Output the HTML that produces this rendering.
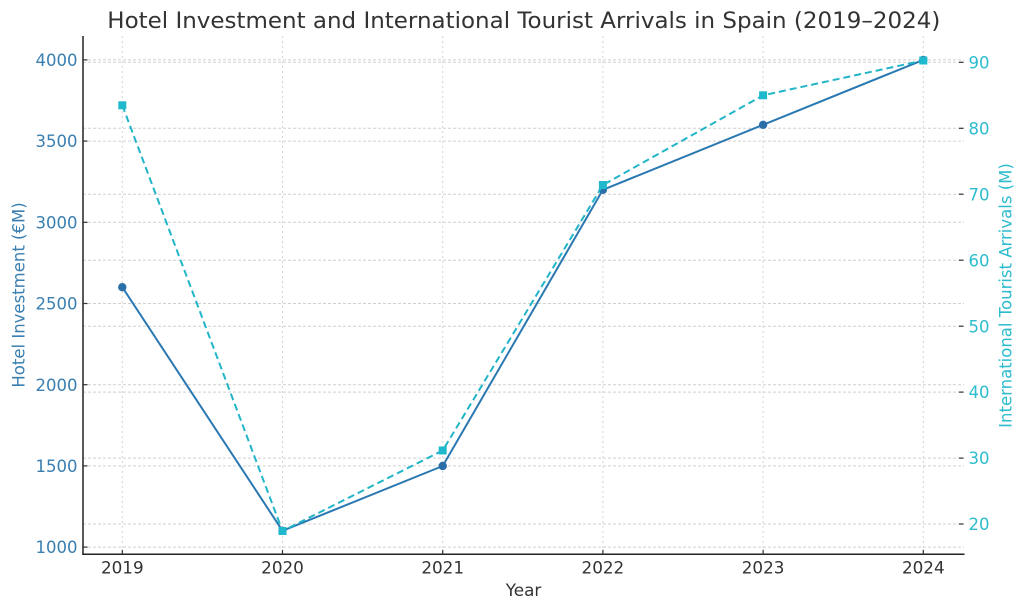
<!DOCTYPE html>
<html>
<head>
<meta charset="utf-8">
<style>
  html, body { margin: 0; padding: 0; background: #ffffff; }
  svg { display: block; }
  text { font-family: "DejaVu Sans", "Liberation Sans", sans-serif; }
</style>
</head>
<body>
<svg width="1024" height="610" viewBox="0 0 1024 610" xmlns="http://www.w3.org/2000/svg">
  <rect x="0" y="0" width="1024" height="610" fill="#ffffff"/>

  <!-- vertical grid (dotted) -->
  <g stroke="#d4d4d4" stroke-width="1" stroke-dasharray="2,3">
    <line x1="122.3" y1="36" x2="122.3" y2="554"/>
    <line x1="282.5" y1="36" x2="282.5" y2="554"/>
    <line x1="442.7" y1="36" x2="442.7" y2="554"/>
    <line x1="602.9" y1="36" x2="602.9" y2="554"/>
    <line x1="763.1" y1="36" x2="763.1" y2="554"/>
    <line x1="923.3" y1="36" x2="923.3" y2="554"/>
  </g>

  <!-- horizontal grid, left axis -->
  <g stroke="#d0d0d0" stroke-width="1" stroke-dasharray="3,2">
    <line x1="83" y1="59.9" x2="964" y2="59.9"/>
    <line x1="83" y1="141.1" x2="964" y2="141.1"/>
    <line x1="83" y1="222.3" x2="964" y2="222.3"/>
    <line x1="83" y1="303.5" x2="964" y2="303.5"/>
    <line x1="83" y1="384.7" x2="964" y2="384.7"/>
    <line x1="83" y1="465.9" x2="964" y2="465.9"/>
    <line x1="83" y1="547.1" x2="964" y2="547.1"/>
  </g>
  <!-- horizontal grid, right axis -->
  <g stroke="#d0d0d0" stroke-width="1" stroke-dasharray="3,2">
    <line x1="83" y1="62.3" x2="964" y2="62.3"/>
    <line x1="83" y1="128.3" x2="964" y2="128.3"/>
    <line x1="83" y1="194.2" x2="964" y2="194.2"/>
    <line x1="83" y1="260.2" x2="964" y2="260.2"/>
    <line x1="83" y1="326.2" x2="964" y2="326.2"/>
    <line x1="83" y1="392.1" x2="964" y2="392.1"/>
    <line x1="83" y1="458.1" x2="964" y2="458.1"/>
    <line x1="83" y1="524.0" x2="964" y2="524.0"/>
  </g>

  <!-- spines -->
  <line x1="83" y1="36" x2="83" y2="554.8" stroke="#222" stroke-width="1.5"/>
  <line x1="82.3" y1="554.3" x2="964.5" y2="554.3" stroke="#222" stroke-width="1.5"/>

  <!-- ticks: left (inside) -->
  <g stroke="#333" stroke-width="1.2">
    <line x1="83" y1="59.9" x2="87.5" y2="59.9"/>
    <line x1="83" y1="141.1" x2="87.5" y2="141.1"/>
    <line x1="83" y1="222.3" x2="87.5" y2="222.3"/>
    <line x1="83" y1="303.5" x2="87.5" y2="303.5"/>
    <line x1="83" y1="384.7" x2="87.5" y2="384.7"/>
    <line x1="83" y1="465.9" x2="87.5" y2="465.9"/>
    <line x1="83" y1="547.1" x2="87.5" y2="547.1"/>
  </g>
  <!-- ticks: right (inside) -->
  <g stroke="#333" stroke-width="1.2">
    <line x1="959" y1="62.3" x2="963.5" y2="62.3"/>
    <line x1="959" y1="128.3" x2="963.5" y2="128.3"/>
    <line x1="959" y1="194.2" x2="963.5" y2="194.2"/>
    <line x1="959" y1="260.2" x2="963.5" y2="260.2"/>
    <line x1="959" y1="326.2" x2="963.5" y2="326.2"/>
    <line x1="959" y1="392.1" x2="963.5" y2="392.1"/>
    <line x1="959" y1="458.1" x2="963.5" y2="458.1"/>
    <line x1="959" y1="524.0" x2="963.5" y2="524.0"/>
  </g>
  <!-- ticks: bottom (inside) -->
  <g stroke="#333" stroke-width="1.2">
    <line x1="122.3" y1="549.8" x2="122.3" y2="554.3"/>
    <line x1="282.5" y1="549.8" x2="282.5" y2="554.3"/>
    <line x1="442.7" y1="549.8" x2="442.7" y2="554.3"/>
    <line x1="602.9" y1="549.8" x2="602.9" y2="554.3"/>
    <line x1="763.1" y1="549.8" x2="763.1" y2="554.3"/>
    <line x1="923.3" y1="549.8" x2="923.3" y2="554.3"/>
  </g>

  <!-- Hotel investment series -->
  <polyline fill="none" stroke="#2a78b2" stroke-width="2" stroke-linejoin="round"
    points="122.3,287.2 282.5,530.8 442.7,466.0 602.9,189.8 763.1,124.8 923.3,59.9"/>
  <g fill="#2a6fa8">
    <circle cx="122.3" cy="287.2" r="4.2"/>
    <circle cx="282.5" cy="530.8" r="4.2"/>
    <circle cx="442.7" cy="466.0" r="4.2"/>
    <circle cx="602.9" cy="189.8" r="4.2"/>
    <circle cx="763.1" cy="124.8" r="4.2"/>
    <circle cx="923.3" cy="59.9" r="4.2"/>
  </g>

  <!-- Tourist arrivals series -->
  <polyline fill="none" stroke="#22b5c8" stroke-width="2" stroke-dasharray="7,4"
    points="122.3,105.3 282.5,531 442.7,450.5 602.9,185 763.1,95.3 923.3,60.5"/>
  <g fill="#1fb8cc">
    <rect x="118.3" y="101.3" width="8" height="8"/>
    <rect x="278.5" y="527" width="8" height="8"/>
    <rect x="438.7" y="446.5" width="8" height="8"/>
    <rect x="598.9" y="181" width="8" height="8"/>
    <rect x="759.1" y="91.3" width="8" height="8"/>
    <rect x="919.3" y="56.5" width="8" height="8"/>
  </g>

  <!-- left tick labels -->
  <g fill="#3a7fb0" font-size="16.5" text-anchor="end">
    <text x="77.5" y="66">4000</text>
    <text x="77.5" y="147.2">3500</text>
    <text x="77.5" y="228.4">3000</text>
    <text x="77.5" y="309.6">2500</text>
    <text x="77.5" y="390.8">2000</text>
    <text x="77.5" y="472">1500</text>
    <text x="77.5" y="553.2">1000</text>
  </g>

  <!-- right tick labels -->
  <g fill="#2cbccd" font-size="16.5" text-anchor="start">
    <text x="968.5" y="68.4">90</text>
    <text x="968.5" y="134.4">80</text>
    <text x="968.5" y="200.3">70</text>
    <text x="968.5" y="266.3">60</text>
    <text x="968.5" y="332.3">50</text>
    <text x="968.5" y="398.2">40</text>
    <text x="968.5" y="464.2">30</text>
    <text x="968.5" y="530.1">20</text>
  </g>

  <!-- bottom tick labels -->
  <g fill="#333" font-size="16.8" text-anchor="middle">
    <text x="122.3" y="573.5">2019</text>
    <text x="282.5" y="573.5">2020</text>
    <text x="442.7" y="573.5">2021</text>
    <text x="602.9" y="573.5">2022</text>
    <text x="763.1" y="573.5">2023</text>
    <text x="923.3" y="573.5">2024</text>
  </g>

  <!-- axis labels -->
  <text x="523.5" y="596" fill="#333" font-size="16.8" text-anchor="middle">Year</text>
  <text transform="translate(24.5,295) rotate(-90)" fill="#3a7fb0" font-size="16.5" text-anchor="middle">Hotel Investment (€M)</text>
  <text transform="translate(1011.5,295.5) rotate(-90)" fill="#2cbccd" font-size="16.5" text-anchor="middle">International Tourist Arrivals (M)</text>

  <!-- title -->
  <text x="107.3" y="28" fill="#333" font-size="22.5" textLength="833" lengthAdjust="spacingAndGlyphs">Hotel Investment and International Tourist Arrivals in Spain (2019–2024)</text>
</svg>
</body>
</html>
